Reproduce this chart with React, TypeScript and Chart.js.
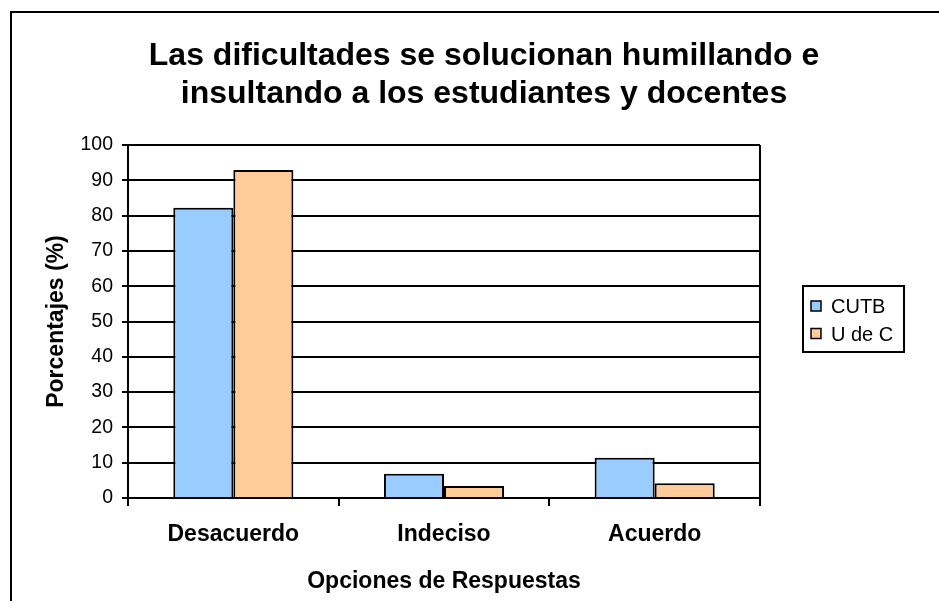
import React, { useEffect, useRef } from "react";
import { Chart, registerables } from "chart.js";

Chart.register(...registerables);

const categories = ["Desacuerdo", "Indeciso", "Acuerdo"];
const seriesNames = ["CUTB", "U de C"];
const cutbValues = [82.2, 6.9, 11.4];
const udecValues = [92.9, 3.4, 4.2];
const seriesColors = ["#99CCFF", "#FFCC99"];
const yMin = 0;
const yMax = 100;
const yStep = 10;
const titleLines = [
  "Las dificultades se solucionan humillando e",
  "insultando a los estudiantes y docentes",
];
const xAxisTitle = "Opciones de Respuestas";
const yAxisTitle = "Porcentajes (%)";

const FAMILY = "Arial, 'Liberation Sans', Helvetica, sans-serif";

const framePlugin = {
  id: "frame",
  beforeDraw(chart: any) {
    const ctx = chart.ctx;
    ctx.save();
    ctx.fillStyle = "#ffffff";
    ctx.fillRect(0, 0, chart.width, chart.height);
    ctx.strokeStyle = "#000000";
    ctx.lineWidth = 2;
    ctx.strokeRect(11, 12, 2000, 2000);
    ctx.restore();
  },
  afterDatasetsDraw(chart: any) {
    const ctx = chart.ctx;
    const a = chart.chartArea;
    ctx.save();
    ctx.strokeStyle = "#000000";
    ctx.lineWidth = 2;
    ctx.beginPath();
    ctx.moveTo(a.right, a.top);
    ctx.lineTo(a.right, a.bottom);
    ctx.stroke();
    ctx.restore();
  },
  afterDraw(chart: any) {
    const ctx = chart.ctx;
    ctx.save();
    // Title
    ctx.fillStyle = "#000000";
    ctx.font = `bold 32px ${FAMILY}`;
    ctx.textAlign = "center";
    ctx.textBaseline = "alphabetic";
    const baselines = [65, 103];
    titleLines.forEach((line, i) => ctx.fillText(line, 484, baselines[i]));

    // Legend box
    ctx.strokeStyle = "#000000";
    ctx.lineWidth = 2;
    ctx.strokeRect(803, 286, 101, 66);
    ctx.font = `20px ${FAMILY}`;
    ctx.textAlign = "left";
    chart.data.datasets.forEach((ds: any, i: number) => {
      const cy = 306 + i * 27.5;
      ctx.fillStyle = ds.backgroundColor;
      ctx.fillRect(811, cy - 5, 10, 10);
      ctx.lineWidth = 1.5;
      ctx.strokeStyle = "#000000";
      ctx.strokeRect(811, cy - 5, 10, 10);
      ctx.fillStyle = "#000000";
      ctx.fillText(ds.label, 831, cy + 7);
    });
    ctx.restore();
  },
};

export default function App() {
  const canvasRef = useRef<HTMLCanvasElement | null>(null);

  useEffect(() => {
    if (!canvasRef.current) return;
    const chart = new Chart(canvasRef.current, {
      type: "bar",
      data: {
        labels: categories,
        datasets: [
          {
            label: seriesNames[0],
            data: cutbValues,
            backgroundColor: seriesColors[0],
            borderColor: "#000000",
            borderWidth: 2,
            barPercentage: 1,
            categoryPercentage: 0.57,
          },
          {
            label: seriesNames[1],
            data: udecValues,
            backgroundColor: seriesColors[1],
            borderColor: "#000000",
            borderWidth: 2,
            barPercentage: 1,
            categoryPercentage: 0.57,
          },
        ],
      },
      options: {
        responsive: false,
        animation: false,
        devicePixelRatio: 1,
        layout: { padding: { left: 0, top: 145, right: 179, bottom: 0 } },
        plugins: {
          legend: { display: false },
          title: { display: false },
          tooltip: { enabled: false },
        },
        scales: {
          x: {
            afterFit: (s: any) => {
              s.height = 103;
            },
            grid: {
              offset: true,
              drawOnChartArea: false,
              drawTicks: true,
              tickLength: 8,
              color: "#000000",
              lineWidth: 2,
            },
            border: { display: true, color: "#000000", width: 2 },
            ticks: {
              color: "#000000",
              padding: 15,
              font: { family: FAMILY, size: 23, weight: "bold" },
            },
            title: {
              display: true,
              text: xAxisTitle,
              color: "#000000",
              padding: { top: 0, bottom: 6 },
              font: { family: FAMILY, size: 23, weight: "bold" },
            },
          },
          y: {
            min: yMin,
            max: yMax,
            afterFit: (s: any) => {
              s.width = 128;
            },
            grid: {
              color: "#000000",
              lineWidth: 2,
              tickLength: 6,
            },
            border: { display: true, color: "#000000", width: 2 },
            ticks: {
              stepSize: yStep,
              color: "#000000",
              padding: 9,
              font: { family: FAMILY, size: 19.5 },
            },
            title: {
              display: true,
              text: yAxisTitle,
              color: "#000000",
              padding: { top: 43, bottom: 0 },
              font: { family: FAMILY, size: 23, weight: "bold" },
            },
          },
        },
      },
      plugins: [framePlugin],
    });
    return () => chart.destroy();
  }, []);

  return (
    <div style={{ position: "absolute", left: 0, top: 0, width: 939, height: 601 }}>
      <canvas ref={canvasRef} width={939} height={601} style={{ display: "block" }} />
    </div>
  );
}
